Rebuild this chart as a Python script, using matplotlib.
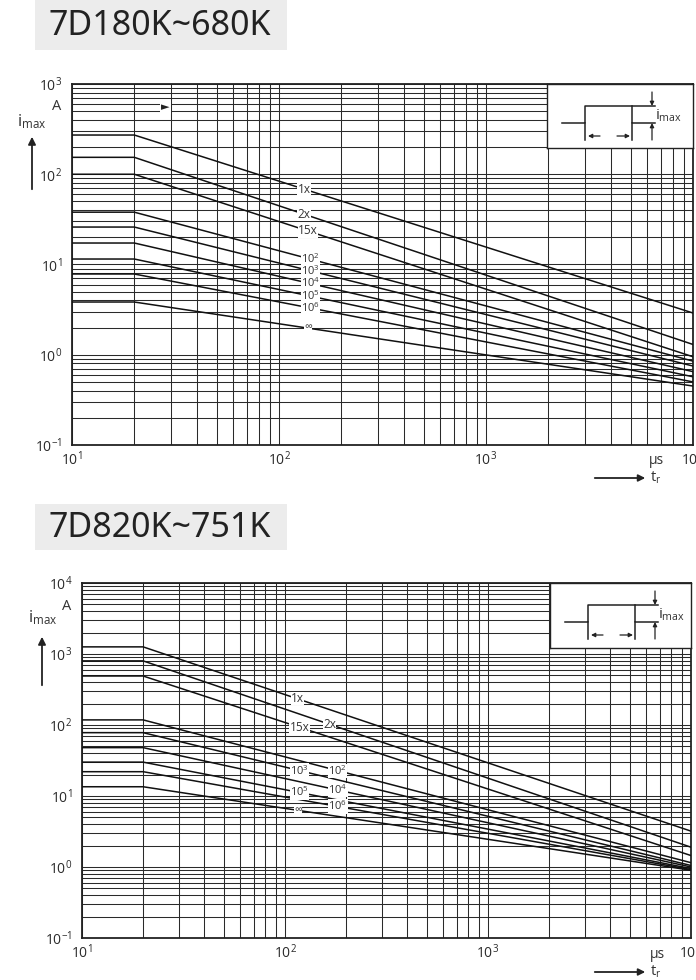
import numpy as np
import matplotlib
matplotlib.use('Agg')
from matplotlib import pyplot as plt
from matplotlib.patches import Rectangle, FancyArrowPatch
from matplotlib.ticker import LogLocator, FixedLocator, FixedFormatter, NullFormatter

plt.rcParams['font.family'] = ['Open Sans', 'DejaVu Sans']

W, H = 696, 980

# data
curve_labels = ['1x', '2x', '15x', r'$\mathregular{10^{2}}$', r'$\mathregular{10^{3}}$',
                r'$\mathregular{10^{4}}$', r'$\mathregular{10^{5}}$', r'$\mathregular{10^{6}}$', '∞']
t_start = 10      # µs, left edge
t_knee = 20       # µs, end of flat part
t_end = 1e4       # µs

# 7D180K~680K
top_flat = [272, 154, 100, 38, 26, 17.3, 11.5, 7.85, 3.84]
top_end = [2.9, 1.3, 0.95, 0.85, 0.75, 0.65, 0.57, 0.5, 0.45]
top_label_t = [132, 132, 138, 142, 142, 142, 142, 142, 138]

# 7D820K~751K
bot_flat = [1260, 800, 490, 118, 78, 48, 30, 22, 13.5]
bot_end = [3.2, 1.9, 1.45, 1.15, 1.05, 1.0, 0.95, 0.92, 0.9]
bot_label_t = [115, 166, 118, 182, 118, 182, 118, 182, 116]

x_ticks = [1e1, 1e2, 1e3, 1e4]
x_ticklabels = [r'$\mathregular{10^{1}}$', r'$\mathregular{10^{2}}$', r'$\mathregular{10^{3}}$', r'$\mathregular{10^{4}}$']


def fx(px):
    return px / W


def fy(py):
    return 1 - py / H


def curve_value(t, v0, v1):
    # straight line in log-log between knee and end
    s = np.log10(v1 / v0) / np.log10(t_end / t_knee)
    return v0 * (t / t_knee) ** s


def draw_panel(ax, flat, end, label_t, ymin_exp, ymax_exp):
    for i, (v0, v1, lab, lt) in enumerate(zip(flat, end, curve_labels, label_t)):
        ax.plot([t_start, t_knee, t_end], [v0, v0, v1], color='#111111', lw=1.1, zorder=3)
        ax.text(lt, curve_value(lt, v0, v1), lab, fontsize=8.5 if i < 3 else 8,
                color='#333333', ha='center', va='center', zorder=4,
                bbox=dict(boxstyle='square,pad=0.02', fc='white', ec='none'))
    ax.set_xscale('log')
    ax.set_yscale('log')
    ax.set_xlim(t_start, t_end)
    ax.set_ylim(10.0 ** ymin_exp, 10.0 ** ymax_exp)
    ax.xaxis.set_major_locator(FixedLocator(x_ticks))
    ax.xaxis.set_major_formatter(FixedFormatter(x_ticklabels))
    ax.xaxis.set_minor_locator(LogLocator(base=10, subs=np.arange(2, 10), numticks=100))
    ax.xaxis.set_minor_formatter(NullFormatter())
    yt = [10.0 ** e for e in range(ymin_exp, ymax_exp + 1)]
    ax.yaxis.set_major_locator(FixedLocator(yt))
    ax.yaxis.set_major_formatter(FixedFormatter([r'$\mathregular{10^{%d}}$' % e for e in range(ymin_exp, ymax_exp + 1)]))
    ax.yaxis.set_minor_locator(LogLocator(base=10, subs=np.arange(2, 10), numticks=100))
    ax.yaxis.set_minor_formatter(NullFormatter())
    ax.grid(True, which='both', color='#2a2a2a', lw=0.75)
    ax.tick_params(which='both', length=0, labelsize=10, labelcolor='#2a2a2a')
    ax.tick_params(axis='y', pad=7)
    ax.tick_params(axis='x', pad=4)
    for sp in ax.spines.values():
        sp.set_color('#222222')
        sp.set_linewidth(1.3)


def arrow(ax, tail, head, ms=6, lw=0.9):
    ax.annotate('', xy=head, xytext=tail,
                arrowprops=dict(arrowstyle='-|>', color='#222222', lw=lw,
                                mutation_scale=ms, shrinkA=0, shrinkB=0))


def pulse_inset(left, top, bottom, right):
    ia = fig.add_axes([fx(left), fy(bottom), fx(right) - fx(left), (bottom - top) / H], zorder=5)
    ia.set_xlim(0, right - left)
    ia.set_ylim(bottom - top, 0)
    ia.set_xticks([])
    ia.set_yticks([])
    ia.set_facecolor('white')
    for sp in ia.spines.values():
        sp.set_color('#222222')
        sp.set_linewidth(1.0)
    k = dict(color='#222222', lw=1.1)
    ia.plot([15, 38, 38, 108], [39, 39, 22, 22], **k)
    ia.plot([85, 85, 108], [22, 39, 39], **k)
    ia.plot([38, 38], [39, 56], **k)
    ia.plot([85, 85], [39, 56], **k)
    arrow(ia, (53, 52), (41, 52))
    arrow(ia, (70, 52), (83, 52))
    arrow(ia, (105, 8), (105, 22))
    arrow(ia, (105, 56), (105, 39))
    ia.text(108, 32, r'$\mathregular{i_{max}}$', fontsize=11, color='#333333', ha='left', va='center')


def title_box(text, top, bottom):
    fig.patches.append(Rectangle((fx(35), fy(bottom)), fx(287) - fx(35), (bottom - top) / H,
                                 transform=fig.transFigure, facecolor='#ececec', edgecolor='none'))
    fig.text(fx(49), fy((top + bottom) / 2 + 1), text, fontsize=24.5, color='#222222',
             family=['Noto Sans', 'DejaVu Sans'], ha='left', va='center')


def side_labels(il_x, il_y, a_x, a_y, ar_x, ar_tail, ar_head, t_y):
    fig.text(fx(il_x), fy(il_y), r'$\mathregular{i_{max}}$', fontsize=12, color='#333333',
             ha='left', va='center')
    fig.text(fx(a_x), fy(a_y), 'A', fontsize=10.5, color='#333333', ha='left', va='center')
    fig.add_artist(FancyArrowPatch(
        (fx(ar_x), fy(ar_tail)), (fx(ar_x), fy(ar_head)), transform=fig.transFigure,
        arrowstyle='-|>', mutation_scale=11, color='#222222', lw=1.3))
    fig.add_artist(FancyArrowPatch(
        (fx(592), fy(t_y)), (fx(648), fy(t_y)), transform=fig.transFigure,
        arrowstyle='-|>', mutation_scale=10, color='#222222', lw=1.3))
    fig.text(fx(650), fy(t_y), r'$\mathregular{t_{r}}$', fontsize=10.5, color='#333333',
             ha='left', va='center')


fig = plt.figure(figsize=(W / 100, H / 100), dpi=100)

# top chart
title_box('7D180K~680K', 0, 50)
ax1 = fig.add_axes([fx(72), fy(445), fx(693) - fx(72), (445 - 84) / H])
draw_panel(ax1, top_flat, top_end, top_label_t, -1, 3)
ax1.text(0.15, 0.935, '►', transform=ax1.transAxes, fontsize=8, color='#222222',
         ha='center', va='center', family='DejaVu Sans',
         bbox=dict(boxstyle='square,pad=0.1', fc='white', ec='none'), zorder=4)
fig.text(fx(649), fy(461), 'μs', fontsize=10, color='#333333', ha='left', va='center')
pulse_inset(547, 84, 148, 693)
side_labels(17, 122, 52, 107, 32, 192, 134, 478)

# bottom chart
title_box('7D820K~751K', 504, 550)
ax2 = fig.add_axes([fx(82), fy(938), fx(691) - fx(82), (938 - 583) / H])
draw_panel(ax2, bot_flat, bot_end, bot_label_t, -1, 4)
fig.text(fx(650), fy(954), 'μs', fontsize=10, color='#333333', ha='left', va='center')
pulse_inset(550, 583, 648, 691)
side_labels(28, 618, 62, 606, 42, 688, 634, 972)

fig.savefig('out.png', dpi=100)
